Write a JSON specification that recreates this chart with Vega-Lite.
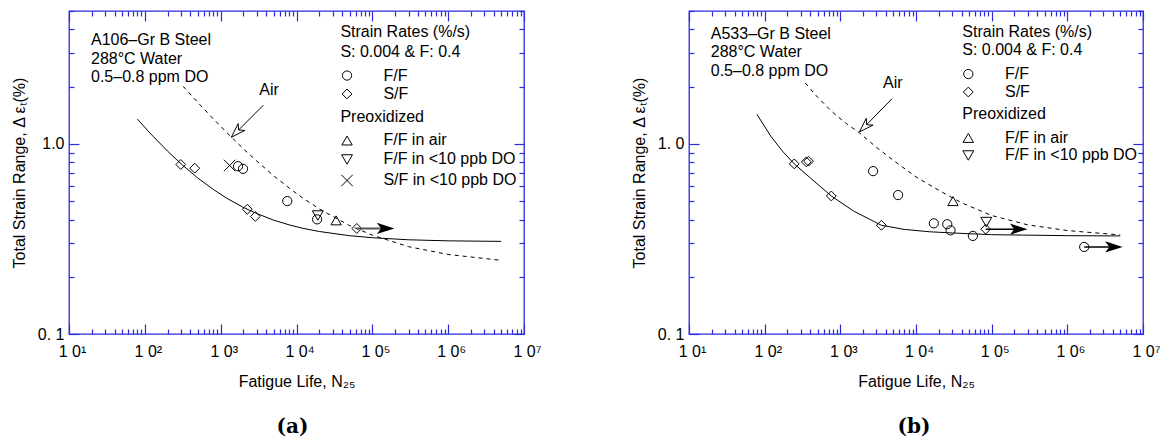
{
  "$schema": "https://vega.github.io/schema/vega-lite/v6.json",
  "padding": {"left": 10, "top": 9, "right": 0, "bottom": 0},
  "spacing": 88,
  "config": {
    "font": "Liberation Sans",
    "view": {"stroke": "#2a2ae0", "strokeWidth": 1.3},
    "axis": {"grid": false, "domain": false, "labelFont": "Liberation Sans", "labelFontSize": 16, "labelColor": "#000000", "titleFont": "Liberation Sans", "titleFontSize": 16, "titleFontWeight": "normal", "titleColor": "#000000", "tickColor": "#2a2ae0", "tickWidth": 1.2, "labelFlush": false, "labelOverlap": false}
  },
  "hconcat": [
    {
      "width": 455,
      "height": 323,
      "title": {"text": "(a)", "orient": "bottom", "dx": -4, "offset": 28, "font": "DejaVu Serif", "fontSize": 20, "fontWeight": "bold", "color": "#000000"},
      "resolve": {"axis": {"x": "independent", "y": "independent"}},
      "layer": [
        {
          "data": {"values": [
            {"N": 80, "e": 1.348}, {"N": 120, "e": 1.127}, {"N": 200, "e": 0.915}, {"N": 300, "e": 0.786}, {"N": 500, "e": 0.661}, {"N": 800, "e": 0.576}, {"N": 1200, "e": 0.518}, {"N": 2000, "e": 0.463}, {"N": 3000, "e": 0.43}, {"N": 5000, "e": 0.397}, {"N": 8000, "e": 0.375}, {"N": 12000, "e": 0.36}, {"N": 20000, "e": 0.346}, {"N": 50000, "e": 0.329}, {"N": 100000, "e": 0.321}, {"N": 300000, "e": 0.313}, {"N": 1000000, "e": 0.309}, {"N": 5000000, "e": 0.307}
          ]},
          "mark": {"type": "line", "color": "#000000", "strokeWidth": 1},
          "encoding": {
            "x": {"field": "N", "type": "quantitative", "scale": {"type": "log", "domain": [10, 10000000], "nice": false},
              "axis": {"orient": "bottom", "values": [10, 100, 1000, 10000, 100000, 1000000, 10000000], "ticks": false, "labelExpr": "'1 0' + ['','¹','²','³','⁴','⁵','⁶','⁷'][round(log(datum.value)/LN10)]", "labelPadding": 9, "labelOffset": 3, "title": "Fatigue Life, N₂₅", "titlePadding": 14}},
            "y": {"field": "e", "type": "quantitative", "scale": {"type": "log", "domain": [0.1, 5], "nice": false},
              "axis": {"orient": "left", "values": [0.1, 1], "ticks": false, "labelExpr": "datum.value == 1 ? '1.0' : '0. 1'", "labelPadding": 5, "title": "Total Strain Range, Δ εₜ(%)", "titlePadding": 10}}
          }
        },
        {
          "data": {"values": [
            {"N": 320, "e": 2.008}, {"N": 500, "e": 1.652}, {"N": 800, "e": 1.354}, {"N": 1200, "e": 1.148}, {"N": 2000, "e": 0.941}, {"N": 3000, "e": 0.811}, {"N": 5000, "e": 0.68}, {"N": 8000, "e": 0.586}, {"N": 12000, "e": 0.52}, {"N": 20000, "e": 0.455}, {"N": 50000, "e": 0.372}, {"N": 100000, "e": 0.331}, {"N": 300000, "e": 0.288}, {"N": 1000000, "e": 0.262}, {"N": 5000000, "e": 0.244}
          ]},
          "mark": {"type": "line", "color": "#000000", "strokeWidth": 1, "strokeDash": [4, 4]},
          "encoding": {
            "x": {"field": "N", "type": "quantitative", "scale": {"type": "log", "domain": [10, 10000000], "nice": false},
              "axis": {"orient": "bottom", "values": [10,20,30,40,50,60,70,80,90,100,200,300,400,500,600,700,800,900,1000,2000,3000,4000,5000,6000,7000,8000,9000,10000,20000,30000,40000,50000,60000,70000,80000,90000,100000,200000,300000,400000,500000,600000,700000,800000,900000,1000000,2000000,3000000,4000000,5000000,6000000,7000000,8000000,9000000,10000000], "labels": false, "title": null, "tickSize": {"condition": {"test": "abs(log(datum.value)/LN10 - round(log(datum.value)/LN10)) < 0.0001", "value": -10}, "value": -5}}},
            "y": {"field": "e", "type": "quantitative", "scale": {"type": "log", "domain": [0.1, 5], "nice": false},
              "axis": {"orient": "left", "values": [0.1,0.2,0.3,0.4,0.5,0.6,0.7,0.8,0.9,1,2,3,4,5], "labels": false, "title": null, "tickSize": {"condition": {"test": "abs(datum.value - 1) < 0.000001 || abs(datum.value - 0.1) < 0.000001", "value": -10}, "value": -5}}}
          }
        },
        {
          "data": {"values": [
            {"N": 298, "e": 0.779, "type": "SF"}, {"N": 455, "e": 0.745, "type": "SF"}, {"N": 2244, "e": 0.453, "type": "SF"}, {"N": 2864, "e": 0.415, "type": "SF"}, {"N": 62400, "e": 0.359, "type": "SF"},
            {"N": 1694, "e": 0.763, "type": "FF"}, {"N": 1972, "e": 0.739, "type": "FF"}, {"N": 7550, "e": 0.5, "type": "FF"}, {"N": 18700, "e": 0.401, "type": "FF"},
            {"N": 19100, "e": 0.42, "type": "FFlow"}, {"N": 33300, "e": 0.396, "type": "FFair"}, {"N": 1313, "e": 0.77, "type": "SFlow"},
            {"N": 46400, "e": 2.288, "type": "FF"}, {"N": 46400, "e": 1.831, "type": "SF"}, {"N": 46400, "e": 1.042, "type": "FFair"}, {"N": 46400, "e": 0.828, "type": "FFlow"}, {"N": 46400, "e": 0.642, "type": "SFlow"}
          ]},
          "mark": {"type": "point", "filled": false, "color": "#000000", "strokeWidth": 1, "opacity": 1},
          "encoding": {
            "x": {"field": "N", "type": "quantitative", "scale": {"type": "log", "domain": [10, 10000000], "nice": false},
              "axis": {"orient": "top", "values": [10,20,30,40,50,60,70,80,90,100,200,300,400,500,600,700,800,900,1000,2000,3000,4000,5000,6000,7000,8000,9000,10000,20000,30000,40000,50000,60000,70000,80000,90000,100000,200000,300000,400000,500000,600000,700000,800000,900000,1000000,2000000,3000000,4000000,5000000,6000000,7000000,8000000,9000000,10000000], "labels": false, "title": null, "tickSize": {"condition": {"test": "abs(log(datum.value)/LN10 - round(log(datum.value)/LN10)) < 0.0001", "value": -10}, "value": -5}}},
            "y": {"field": "e", "type": "quantitative", "scale": {"type": "log", "domain": [0.1, 5], "nice": false},
              "axis": {"orient": "right", "values": [0.1,0.2,0.3,0.4,0.5,0.6,0.7,0.8,0.9,1,2,3,4,5], "labels": false, "title": null, "tickSize": {"condition": {"test": "abs(datum.value - 1) < 0.000001 || abs(datum.value - 0.1) < 0.000001", "value": -10}, "value": -5}}},
            "shape": {"field": "type", "type": "nominal", "scale": {"domain": ["FF", "SF", "FFair", "FFlow", "SFlow"], "range": ["circle", "diamond", "triangle-up", "triangle-down", "M-1,-1L1,1M-1,1L1,-1"]}, "legend": null},
            "size": {"field": "type", "type": "nominal", "scale": {"domain": ["FF", "SF", "FFair", "FFlow", "SFlow"], "range": [85, 130, 110, 110, 110]}, "legend": null}
          }
        },
        {
          "data": {"values": [{"N": 62400, "N2": 170000, "e": 0.359}]},
          "mark": {"type": "rule", "color": "#555555", "strokeWidth": 2},
          "encoding": {
            "x": {"field": "N", "type": "quantitative", "scale": {"type": "log", "domain": [10, 10000000], "nice": false}, "axis": null},
            "x2": {"field": "N2"},
            "y": {"field": "e", "type": "quantitative", "scale": {"type": "log", "domain": [0.1, 5], "nice": false}, "axis": null}
          }
        },
        {
          "data": {"values": [{"N": 195000, "e": 0.359}]},
          "mark": {"type": "point", "shape": "M0,0L-2.5,-0.8L-1.9,0L-2.5,0.8Z", "filled": true, "color": "#000000", "size": 196, "opacity": 1},
          "encoding": {
            "x": {"field": "N", "type": "quantitative", "scale": {"type": "log", "domain": [10, 10000000], "nice": false}, "axis": null},
            "y": {"field": "e", "type": "quantitative", "scale": {"type": "log", "domain": [0.1, 5], "nice": false}, "axis": null}
          }
        },
        {
          "data": {"values": [{"N": 3650, "e": 1.597, "N2": 1384, "e2": 1.084}]},
          "mark": {"type": "rule", "color": "#000000", "strokeWidth": 1},
          "encoding": {
            "x": {"field": "N", "type": "quantitative", "scale": {"type": "log", "domain": [10, 10000000], "nice": false}, "axis": null},
            "x2": {"field": "N2"},
            "y": {"field": "e", "type": "quantitative", "scale": {"type": "log", "domain": [0.1, 5], "nice": false}, "axis": null},
            "y2": {"field": "e2"}
          }
        },
        {
          "data": {"values": [{"N": 1384, "e": 1.084}]},
          "mark": {"type": "point", "shape": "M0,0L2.263,-1.131L1.202,-1.202L1.131,-2.263Z", "filled": true, "fill": "#ffffff", "stroke": "#000000", "strokeWidth": 1, "size": 144, "opacity": 1},
          "encoding": {
            "x": {"field": "N", "type": "quantitative", "scale": {"type": "log", "domain": [10, 10000000], "nice": false}, "axis": null},
            "y": {"field": "e", "type": "quantitative", "scale": {"type": "log", "domain": [0.1, 5], "nice": false}, "axis": null}
          }
        },
        {
          "data": {"values": [
            {"N": 19.5, "e": 3.52, "t": "A106–Gr B Steel"},
            {"N": 19.5, "e": 2.8, "t": "288°C Water"},
            {"N": 19.5, "e": 2.24, "t": "0.5–0.8 ppm DO"},
            {"N": 3230, "e": 1.91, "t": "Air"},
            {"N": 37900, "e": 3.86, "t": "Strain Rates (%/s)"},
            {"N": 37900, "e": 3.06, "t": "S: 0.004 & F: 0.4"},
            {"N": 140000, "e": 2.288, "t": "F/F"},
            {"N": 140000, "e": 1.831, "t": "S/F"},
            {"N": 37900, "e": 1.381, "t": "Preoxidized"},
            {"N": 140000, "e": 1.042, "t": "F/F in air"},
            {"N": 140000, "e": 0.828, "t": "F/F in <10 ppb DO"},
            {"N": 140000, "e": 0.642, "t": "S/F in <10 ppb DO"}
          ]},
          "mark": {"type": "text", "align": "left", "baseline": "middle", "font": "Liberation Sans", "fontSize": 16, "color": "#000000"},
          "encoding": {
            "x": {"field": "N", "type": "quantitative", "scale": {"type": "log", "domain": [10, 10000000], "nice": false}, "axis": null},
            "y": {"field": "e", "type": "quantitative", "scale": {"type": "log", "domain": [0.1, 5], "nice": false}, "axis": null},
            "text": {"field": "t"}
          }
        }
      ]
    },
    {
      "width": 454,
      "height": 323,
      "title": {"text": "(b)", "orient": "bottom", "dx": -2, "offset": 28, "font": "DejaVu Serif", "fontSize": 20, "fontWeight": "bold", "color": "#000000"},
      "resolve": {"axis": {"x": "independent", "y": "independent"}},
      "layer": [
        {
          "data": {"values": [
            {"N": 79, "e": 1.43}, {"N": 120, "e": 1.1}, {"N": 170, "e": 0.92}, {"N": 246, "e": 0.785}, {"N": 400, "e": 0.663}, {"N": 760, "e": 0.532}, {"N": 1500, "e": 0.443}, {"N": 3490, "e": 0.373}, {"N": 7000, "e": 0.355}, {"N": 15000, "e": 0.345}, {"N": 30000, "e": 0.34}, {"N": 100000, "e": 0.333}, {"N": 1000000, "e": 0.329}, {"N": 5000000, "e": 0.328}
          ]},
          "mark": {"type": "line", "color": "#000000", "strokeWidth": 1},
          "encoding": {
            "x": {"field": "N", "type": "quantitative", "scale": {"type": "log", "domain": [10, 10000000], "nice": false},
              "axis": {"orient": "bottom", "values": [10, 100, 1000, 10000, 100000, 1000000, 10000000], "ticks": false, "labelExpr": "'1 0' + ['','¹','²','³','⁴','⁵','⁶','⁷'][round(log(datum.value)/LN10)]", "labelPadding": 9, "labelOffset": 3, "title": "Fatigue Life, N₂₅", "titlePadding": 14}},
            "y": {"field": "e", "type": "quantitative", "scale": {"type": "log", "domain": [0.1, 5], "nice": false},
              "axis": {"orient": "left", "values": [0.1, 1], "ticks": false, "labelExpr": "datum.value == 1 ? '1. 0' : '0. 1'", "labelPadding": 5, "title": "Total Strain Range, Δ εₜ(%)", "titlePadding": 10}}
          }
        },
        {
          "data": {"values": [
            {"N": 344, "e": 2.09}, {"N": 500, "e": 1.76}, {"N": 800, "e": 1.46}, {"N": 1200, "e": 1.28}, {"N": 1750, "e": 1.15}, {"N": 3000, "e": 0.96}, {"N": 5000, "e": 0.82}, {"N": 10000, "e": 0.67}, {"N": 20000, "e": 0.57}, {"N": 40000, "e": 0.49}, {"N": 100000, "e": 0.42}, {"N": 300000, "e": 0.375}, {"N": 1000000, "e": 0.35}, {"N": 5000000, "e": 0.332}
          ]},
          "mark": {"type": "line", "color": "#000000", "strokeWidth": 1, "strokeDash": [4, 4]},
          "encoding": {
            "x": {"field": "N", "type": "quantitative", "scale": {"type": "log", "domain": [10, 10000000], "nice": false},
              "axis": {"orient": "bottom", "values": [10,20,30,40,50,60,70,80,90,100,200,300,400,500,600,700,800,900,1000,2000,3000,4000,5000,6000,7000,8000,9000,10000,20000,30000,40000,50000,60000,70000,80000,90000,100000,200000,300000,400000,500000,600000,700000,800000,900000,1000000,2000000,3000000,4000000,5000000,6000000,7000000,8000000,9000000,10000000], "labels": false, "title": null, "tickSize": {"condition": {"test": "abs(log(datum.value)/LN10 - round(log(datum.value)/LN10)) < 0.0001", "value": -10}, "value": -5}}},
            "y": {"field": "e", "type": "quantitative", "scale": {"type": "log", "domain": [0.1, 5], "nice": false},
              "axis": {"orient": "left", "values": [0.1,0.2,0.3,0.4,0.5,0.6,0.7,0.8,0.9,1,2,3,4,5], "labels": false, "title": null, "tickSize": {"condition": {"test": "abs(datum.value - 1) < 0.000001 || abs(datum.value - 0.1) < 0.000001", "value": -10}, "value": -5}}}
          }
        },
        {
          "data": {"values": [
            {"N": 246, "e": 0.785, "type": "SF"}, {"N": 355, "e": 0.804, "type": "SF"}, {"N": 380, "e": 0.811, "type": "SF"}, {"N": 760, "e": 0.532, "type": "SF"}, {"N": 3490, "e": 0.373, "type": "SF"}, {"N": 83400, "e": 0.356, "type": "SF"},
            {"N": 2710, "e": 0.719, "type": "FF"}, {"N": 5800, "e": 0.538, "type": "FF"}, {"N": 17200, "e": 0.382, "type": "FF"}, {"N": 25900, "e": 0.378, "type": "FF"}, {"N": 28600, "e": 0.351, "type": "FF"}, {"N": 56500, "e": 0.328, "type": "FF"}, {"N": 1670000, "e": 0.287, "type": "FF"},
            {"N": 30800, "e": 0.5, "type": "FFair"}, {"N": 85000, "e": 0.388, "type": "FFlow"},
            {"N": 49100, "e": 2.33, "type": "FF"}, {"N": 49100, "e": 1.874, "type": "SF"}, {"N": 49100, "e": 1.075, "type": "FFair"}, {"N": 49100, "e": 0.869, "type": "FFlow"}
          ]},
          "mark": {"type": "point", "filled": false, "color": "#000000", "strokeWidth": 1, "opacity": 1},
          "encoding": {
            "x": {"field": "N", "type": "quantitative", "scale": {"type": "log", "domain": [10, 10000000], "nice": false},
              "axis": {"orient": "top", "values": [10,20,30,40,50,60,70,80,90,100,200,300,400,500,600,700,800,900,1000,2000,3000,4000,5000,6000,7000,8000,9000,10000,20000,30000,40000,50000,60000,70000,80000,90000,100000,200000,300000,400000,500000,600000,700000,800000,900000,1000000,2000000,3000000,4000000,5000000,6000000,7000000,8000000,9000000,10000000], "labels": false, "title": null, "tickSize": {"condition": {"test": "abs(log(datum.value)/LN10 - round(log(datum.value)/LN10)) < 0.0001", "value": -10}, "value": -5}}},
            "y": {"field": "e", "type": "quantitative", "scale": {"type": "log", "domain": [0.1, 5], "nice": false},
              "axis": {"orient": "right", "values": [0.1,0.2,0.3,0.4,0.5,0.6,0.7,0.8,0.9,1,2,3,4,5], "labels": false, "title": null, "tickSize": {"condition": {"test": "abs(datum.value - 1) < 0.000001 || abs(datum.value - 0.1) < 0.000001", "value": -10}, "value": -5}}},
            "shape": {"field": "type", "type": "nominal", "scale": {"domain": ["FF", "SF", "FFair", "FFlow", "SFlow"], "range": ["circle", "diamond", "triangle-up", "triangle-down", "M-1,-1L1,1M-1,1L1,-1"]}, "legend": null},
            "size": {"field": "type", "type": "nominal", "scale": {"domain": ["FF", "SF", "FFair", "FFlow", "SFlow"], "range": [85, 130, 110, 110, 110]}, "legend": null}
          }
        },
        {
          "data": {"values": [{"N": 83400, "N2": 260000, "e": 0.356}, {"N": 1670000, "N2": 4700000, "e": 0.287}]},
          "mark": {"type": "rule", "color": "#000000", "strokeWidth": 1.5},
          "encoding": {
            "x": {"field": "N", "type": "quantitative", "scale": {"type": "log", "domain": [10, 10000000], "nice": false}, "axis": null},
            "x2": {"field": "N2"},
            "y": {"field": "e", "type": "quantitative", "scale": {"type": "log", "domain": [0.1, 5], "nice": false}, "axis": null}
          }
        },
        {
          "data": {"values": [{"N": 297000, "e": 0.356}, {"N": 5380000, "e": 0.287}]},
          "mark": {"type": "point", "shape": "M0,0L-2.5,-0.8L-1.9,0L-2.5,0.8Z", "filled": true, "color": "#000000", "size": 196, "opacity": 1},
          "encoding": {
            "x": {"field": "N", "type": "quantitative", "scale": {"type": "log", "domain": [10, 10000000], "nice": false}, "axis": null},
            "y": {"field": "e", "type": "quantitative", "scale": {"type": "log", "domain": [0.1, 5], "nice": false}, "axis": null}
          }
        },
        {
          "data": {"values": [{"N": 4840, "e": 1.73, "N2": 1790, "e2": 1.156}]},
          "mark": {"type": "rule", "color": "#000000", "strokeWidth": 1},
          "encoding": {
            "x": {"field": "N", "type": "quantitative", "scale": {"type": "log", "domain": [10, 10000000], "nice": false}, "axis": null},
            "x2": {"field": "N2"},
            "y": {"field": "e", "type": "quantitative", "scale": {"type": "log", "domain": [0.1, 5], "nice": false}, "axis": null},
            "y2": {"field": "e2"}
          }
        },
        {
          "data": {"values": [{"N": 1790, "e": 1.156}]},
          "mark": {"type": "point", "shape": "M0,0L2.263,-1.131L1.202,-1.202L1.131,-2.263Z", "filled": true, "fill": "#ffffff", "stroke": "#000000", "strokeWidth": 1, "size": 144, "opacity": 1},
          "encoding": {
            "x": {"field": "N", "type": "quantitative", "scale": {"type": "log", "domain": [10, 10000000], "nice": false}, "axis": null},
            "y": {"field": "e", "type": "quantitative", "scale": {"type": "log", "domain": [0.1, 5], "nice": false}, "axis": null}
          }
        },
        {
          "data": {"values": [
            {"N": 19.4, "e": 3.78, "t": "A533–Gr B Steel"},
            {"N": 19.4, "e": 3.04, "t": "288°C Water"},
            {"N": 19.4, "e": 2.41, "t": "0.5–0.8 ppm DO"},
            {"N": 3660, "e": 2.08, "t": "Air"},
            {"N": 40900, "e": 3.9, "t": "Strain Rates (%/s)"},
            {"N": 40900, "e": 3.13, "t": "S: 0.004 & F: 0.4"},
            {"N": 150000, "e": 2.33, "t": "F/F"},
            {"N": 150000, "e": 1.874, "t": "S/F"},
            {"N": 40900, "e": 1.437, "t": "Preoxidized"},
            {"N": 150000, "e": 1.075, "t": "F/F in air"},
            {"N": 150000, "e": 0.869, "t": "F/F in <10 ppb DO"}
          ]},
          "mark": {"type": "text", "align": "left", "baseline": "middle", "font": "Liberation Sans", "fontSize": 16, "color": "#000000"},
          "encoding": {
            "x": {"field": "N", "type": "quantitative", "scale": {"type": "log", "domain": [10, 10000000], "nice": false}, "axis": null},
            "y": {"field": "e", "type": "quantitative", "scale": {"type": "log", "domain": [0.1, 5], "nice": false}, "axis": null},
            "text": {"field": "t"}
          }
        }
      ]
    }
  ]
}
